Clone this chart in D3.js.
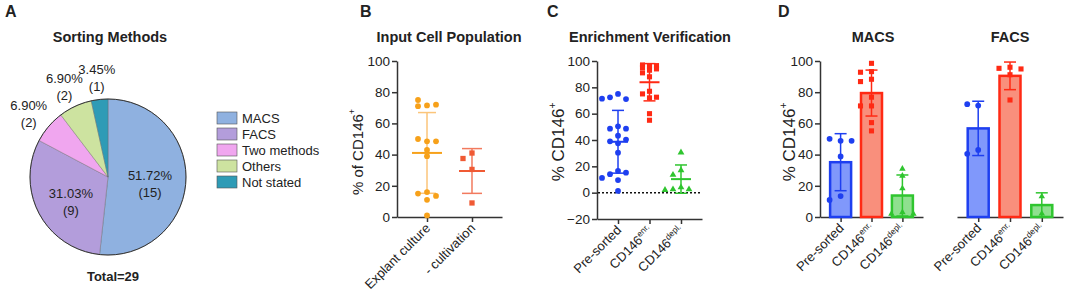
<!DOCTYPE html>
<html>
<head>
<meta charset="utf-8">
<script src="https://cdn.jsdelivr.net/npm/d3@7"></script>
<style>
  body { margin: 0; background: white; }
  text { font-family: "Liberation Sans", Arial, sans-serif; fill: #222; }
</style>
</head>
<body>
<div id="figure"></div>
<script>
// ---- data ----
const sortMethods = ['MACS', 'FACS', 'Two methods', 'Others', 'Not stated'];
const sortCounts = [15, 9, 2, 2, 1];
const sortColors = ['#8fb1e0', '#b39ddb', '#f0a6ef', '#cde3a0', '#2e9bb6'];

const inputCategories = ['Explant culture', '- cultivation'];
const explantValues = [71.5, 75, 71, 72, 48.5, 50, 48.5, 43, 39, 16, 15, 13.5, 11, 1];
const cultivationValues = [41, 37.5, 30.5, 9];

const enrichCategories = [['Pre-sorted', ''], ['CD146', 'enr.'], ['CD146', 'depl.']];
const presortedValues = [75, 72.4, 71.1, 71.4, 50.4, 48.6, 48.6, 43.3, 39, 37.5, 40.3, 30.4, 16.5, 14, 15.2, 9.6, 11.2, 1.3];
const enrichedValues = [96.5, 97, 96.5, 95.5, 95, 94, 93, 91, 88, 77, 75, 72.5, 72, 60, 55];
const depletedValues = [30.5, 17, 13.5, 4, 2.5, 2.5, 2];

const macsPre = [48.8, 50.1, 48.8, 38.8, 13.4, 10.9];
const macsEnr = [98.5, 93.2, 92.8, 88.3, 86.8, 76.8, 71.2, 71.2, 60.5, 55.2];
const macsDepl = [30.9, 26.4, 18.3, 3, 2, 2];
const facsPre = [71.4, 72.3, 43, 40.5];
const facsEnr = [96, 95.3, 94.9, 91.2, 75];
const facsDepl = [13.2, 2.1];

const yTicks100 = [0, 20, 40, 60, 80, 100];
const yTicksC = [-20, 0, 20, 40, 60, 80, 100];

// ---- svg ----
const W = 1065, H = 293;
const svg = d3.select('#figure').append('svg')
  .attr('width', W).attr('height', H);

const axisColor = '#333';

function panelLetter(x, label) {
  svg.append('text').attr('x', x).attr('y', 17)
    .style('font-size', '16px').style('font-weight', 'bold').text(label);
}
function title(x, t) {
  svg.append('text').attr('x', x).attr('y', 42)
    .attr('text-anchor', 'middle')
    .style('font-size', '14.5px').style('font-weight', 'bold').text(t);
}
function yLabel(x, y, pre, size) {
  const t = svg.append('text')
    .attr('transform', `translate(${x},${y}) rotate(-90)`)
    .attr('text-anchor', 'middle').attr('dominant-baseline', 'central')
    .style('font-size', size + 'px');
  t.append('tspan').text(pre);
  t.append('tspan').attr('dy', -size * 0.35).style('font-size', (size * 0.6) + 'px').text('+');
}

// y axis drawn with d3.axisLeft
function yAxis(x, scale, ticks) {
  const g = svg.append('g').attr('transform', `translate(${x},0)`)
    .call(d3.axisLeft(scale).tickValues(ticks).tickSize(5).tickSizeOuter(0));
  g.select('.domain').attr('stroke', axisColor).attr('stroke-width', 1.5);
  g.selectAll('.tick line').attr('stroke', axisColor).attr('stroke-width', 1.5);
  g.selectAll('.tick text').attr('x', -7).style('font-size', '13.5px')
    .style('font-family', '"Liberation Sans", Arial, sans-serif').attr('fill', '#222');
}

// x axis with rotated labels; label = [main, superscript]
function xAxis(y, scale, labels) {
  const g = svg.append('g').attr('transform', `translate(0,${y})`)
    .call(d3.axisBottom(scale).tickSize(5).tickSizeOuter(0).tickFormat(''));
  g.select('.domain').attr('stroke', axisColor).attr('stroke-width', 1.5);
  g.selectAll('.tick line').attr('stroke', axisColor).attr('stroke-width', 1.5);
  scale.domain().forEach((d, i) => {
    const lab = labels[i];
    const t = svg.append('text')
      .attr('transform', `translate(${scale(d) + 4},${y + 12}) rotate(-45)`)
      .attr('text-anchor', 'end')
      .style('font-size', '13px');
    t.append('tspan').text(lab[0]);
    if (lab[1]) t.append('tspan').attr('dy', -5).style('font-size', '8.5px').text(lab[1]);
  });
}

// simple dodge so points of similar value sit side by side
function dodge(values, y, step, minDy, maxK) {
  const placed = [];
  const ks = [0, -1, 1, -2, 2, -3, 3].filter(k => Math.abs(k) <= maxK);
  return values.map(v => {
    const py = y(v);
    let best = null, bestHits = Infinity;
    for (const k of ks) {
      const ox = k * step;
      const hits = placed.filter(p => Math.abs(p.x - ox) < step * 0.9 && Math.abs(p.y - py) < minDy).length;
      if (hits < bestHits) { bestHits = hits; best = ox; }
      if (hits === 0) break;
    }
    placed.push({x: best, y: py});
    return {x: best, y: py};
  });
}

function points(values, cx, y, shape, color, step, size, maxK) {
  const pos = dodge(values, y, step, 6, maxK === undefined ? 3 : maxK);
  svg.append('g').selectAll('path').data(pos).join('path')
    .attr('d', d3.symbol().type(shape).size(size))
    .attr('transform', d => `translate(${cx + d.x},${d.y})`)
    .attr('fill', color);
}

function errorBar(values, cx, y, color, lineColor, meanW, capW, showMean) {
  const m = d3.mean(values), sd = d3.deviation(values);
  const g = svg.append('g').attr('stroke-width', 1.5);
  g.append('line').attr('x1', cx).attr('x2', cx).attr('y1', y(m - sd)).attr('y2', y(m + sd)).attr('stroke', lineColor);
  [m - sd, m + sd].forEach(v => {
    g.append('line').attr('x1', cx - capW / 2).attr('x2', cx + capW / 2)
      .attr('y1', y(v)).attr('y2', y(v)).attr('stroke', lineColor);
  });
  if (showMean) {
    g.append('line').attr('x1', cx - meanW / 2).attr('x2', cx + meanW / 2)
      .attr('y1', y(m)).attr('y2', y(m)).attr('stroke', color).attr('stroke-width', 2);
  }
}

// ================= Panel A: pie =================
panelLetter(5, 'A');
title(110, 'Sorting Methods');
const total = d3.sum(sortCounts);
const pieCx = 108, pieCy = 177, pieR = 78;
const pieG = svg.append('g').attr('transform', `translate(${pieCx},${pieCy})`);
const arcs = d3.pie().sort(null).value(d => d)(sortCounts);
const arc = d3.arc().innerRadius(0).outerRadius(pieR);
pieG.selectAll('path').data(arcs).join('path')
  .attr('d', arc)
  .attr('fill', (d, i) => sortColors[i])
  .attr('stroke', '#666').attr('stroke-width', 0.4);
pieG.append('circle').attr('r', pieR).attr('fill', 'none').attr('stroke', '#333').attr('stroke-width', 1);

const inArc = d3.arc().innerRadius(42).outerRadius(42);
const outArc = d3.arc().innerRadius(104).outerRadius(104);
arcs.forEach((d, i) => {
  const inside = d.value / total > 0.2;
  const c = (inside ? inArc : outArc).centroid(d);
  const dy = inside ? 5 : 4;
  const pct = (d.value / total * 100).toFixed(2) + '%';
  pieG.append('text').attr('x', c[0]).attr('y', c[1] - 4 + dy).attr('text-anchor', 'middle')
    .style('font-size', '13px').text(pct);
  pieG.append('text').attr('x', c[0]).attr('y', c[1] + 13 + dy).attr('text-anchor', 'middle')
    .style('font-size', '13px').text(`(${d.value})`);
});
svg.append('text').attr('x', 113).attr('y', 281).attr('text-anchor', 'middle')
  .style('font-size', '13px').style('font-weight', 'bold').text('Total=' + total);

// legend
const legend = svg.append('g').attr('transform', 'translate(217,118)');
sortMethods.forEach((m, i) => {
  const row = legend.append('g').attr('transform', `translate(0,${i * 16})`);
  row.append('rect').attr('x', 0).attr('y', -6).attr('width', 20).attr('height', 12)
    .attr('fill', sortColors[i]).attr('stroke', '#555').attr('stroke-width', 0.6);
  row.append('text').attr('x', 25).attr('y', 5).style('font-size', '13px').text(m);
});

// ================= Panel B =================
panelLetter(360, 'B');
title(449, 'Input Cell Population');
const yB = d3.scaleLinear().domain([0, 100]).range([217, 61]);
const xB = d3.scalePoint().domain(inputCategories).range([397, 502]).padding(0.667);
yAxis(397, yB, yTicks100);
xAxis(217, xB, inputCategories.map(c => [c, '']));
yLabel(357, 152, '% of CD146', 15);
errorBar(explantValues, xB(inputCategories[0]), yB, '#f7a11a', '#fbc57a', 30, 18, true);
errorBar(cultivationValues, xB(inputCategories[1]), yB, '#f05a34', '#f27a5e', 26, 20, true);
points(explantValues, xB(inputCategories[0]), yB, d3.symbolCircle, '#f7a11a', 9, 26);
points(cultivationValues, xB(inputCategories[1]), yB, d3.symbolSquare, '#f05a34', 9, 28);

// ================= Panel C =================
panelLetter(547, 'C');
title(650, 'Enrichment Verification');
const yC = d3.scaleLinear().domain([-20, 100]).range([219, 61]);
const xC = d3.scalePoint().domain(enrichCategories.map(d => d.join(''))).range([597, 702]).padding(0.667);
yAxis(597, yC, yTicksC);
xAxis(219, xC, enrichCategories);
yLabel(558, 142, '% CD146', 17);
svg.append('line').attr('x1', 598).attr('x2', 702).attr('y1', yC(0)).attr('y2', yC(0))
  .attr('stroke', '#111').attr('stroke-width', 1.5).attr('stroke-dasharray', '2,2');
const cKeys = xC.domain();
const cColors = ['#1e3ff0', '#ff2a14', '#2fc52f'];
const cShapes = [d3.symbolCircle, d3.symbolSquare, d3.symbolTriangle];
const cSpread = [3, 1, 2];
[presortedValues, enrichedValues, depletedValues].forEach((vals, i) => {
  errorBar(vals, xC(cKeys[i]), yC, cColors[i], cColors[i], 20, 12, true);
  points(vals, xC(cKeys[i]), yC, cShapes[i], cColors[i], i === 1 ? 7 : 8, i === 2 ? 20 : 26, cSpread[i]);
});

// ================= Panel D =================
panelLetter(778, 'D');
title(873, 'MACS');
title(1010, 'FACS');
const yD = d3.scaleLinear().domain([0, 100]).range([217, 61]);
const xMacs = d3.scalePoint().domain(cKeys).range([820, 923]).padding(0.667);
const xFacs = d3.scalePoint().domain(cKeys).range([957, 1063]).padding(0.667);
yAxis(820, yD, yTicks100);
yLabel(789, 142, '% CD146', 17);
xAxis(217, xMacs, enrichCategories);
xAxis(217, xFacs, enrichCategories);

const barFills = ['#8098fb', '#f98f7c', '#8fe08f'];
function barGroup(sets, xs) {
  sets.forEach((vals, i) => {
    const cx = xs(cKeys[i]);
    const m = d3.mean(vals);
    svg.append('rect').attr('x', cx - 10.5).attr('width', 21)
      .attr('y', yD(m)).attr('height', yD(0) - yD(m))
      .attr('fill', barFills[i]).attr('stroke', cColors[i]).attr('stroke-width', 2.5);
    errorBar(vals, cx, yD, cColors[i], cColors[i], 0, 12, false);
    points(vals, cx, yD, cShapes[i], cColors[i], 11, i === 2 ? 18 : 26);
  });
}
barGroup([macsPre, macsEnr, macsDepl], xMacs);
barGroup([facsPre, facsEnr, facsDepl], xFacs);
</script>
</body>
</html>
